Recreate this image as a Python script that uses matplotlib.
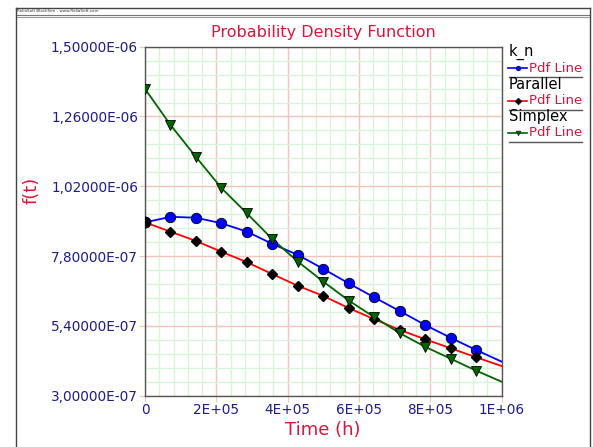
import matplotlib
matplotlib.use("Agg")
import matplotlib.pyplot as plt
from matplotlib.lines import Line2D
from matplotlib.ticker import FixedLocator, MultipleLocator, FuncFormatter

# sample times (h)
times = [0, 71430, 142860, 214290, 285710, 357140, 428570, 500000,
         571430, 642860, 714290, 785710, 857140, 928570]
t_end = 1000000

# pdf values
kn_pdf = [8.96e-7, 9.15e-7, 9.12e-7, 8.93e-7, 8.64e-7, 8.22e-7, 7.84e-7,
          7.36e-7, 6.86e-7, 6.38e-7, 5.91e-7, 5.43e-7, 4.99e-7, 4.57e-7]
kn_end = 4.17e-7
par_pdf = [8.96e-7, 8.64e-7, 8.32e-7, 7.95e-7, 7.59e-7, 7.18e-7, 6.78e-7,
           6.43e-7, 6.01e-7, 5.63e-7, 5.26e-7, 4.94e-7, 4.63e-7, 4.32e-7]
par_end = 4.02e-7
simp_pdf = [1.355e-6, 1.231e-6, 1.121e-6, 1.014e-6, 9.27e-7, 8.38e-7, 7.61e-7,
            6.92e-7, 6.27e-7, 5.70e-7, 5.15e-7, 4.68e-7, 4.27e-7, 3.86e-7]
simp_end = 3.48e-7

y_ticks = [3.0e-7, 5.4e-7, 7.8e-7, 1.02e-6, 1.26e-6, 1.5e-6]
x_ticks = [0, 2e5, 4e5, 6e5, 8e5, 1e6]

series_names = ["k_n", "Parallel", "Simplex"]
line_label = "Pdf Line"

W, H = 593, 447
fig = plt.figure(figsize=(W / 100, H / 100), dpi=100)
ax = fig.add_axes([145 / W, 1 - 395.7 / H, (501.7 - 145) / W, (395.7 - 46.7) / H])

crimson = "#dc143c"
navy = "#1c1c8c"

tx = times + [t_end]
ax.plot(tx, kn_pdf + [kn_end], color="blue", lw=1.3, zorder=3)
ax.plot(tx, par_pdf + [par_end], color="red", lw=1.3, zorder=3)
ax.plot(tx, simp_pdf + [simp_end], color="#006400", lw=1.3, zorder=3)
ax.plot(times, kn_pdf, ls="none", marker="o", ms=7.5, mfc="blue", mec="black", mew=0.6, zorder=4)
ax.plot(times, par_pdf, ls="none", marker="D", ms=5.5, mfc="black", mec="black", zorder=5)
ax.plot(times, simp_pdf, ls="none", marker="v", ms=7.5, mfc="#006400", mec="black", mew=0.6, zorder=6)
ax.plot(times[:1], kn_pdf[:1], ls="none", marker="o", ms=7.5, mfc="black", mec="black", zorder=7)

ax.set_xlim(0, 1e6)
ax.set_ylim(3e-7, 1.5e-6)
ax.xaxis.set_major_locator(FixedLocator(x_ticks))
ax.xaxis.set_minor_locator(MultipleLocator(4e4))
ax.yaxis.set_major_locator(FixedLocator(y_ticks))
ax.yaxis.set_minor_locator(FixedLocator([y_ticks[0] + k * 4.8e-8 for k in range(26)]))
ax.xaxis.set_major_formatter(FuncFormatter(lambda v, p: "0" if v == 0 else f"{v:.0E}"))
ax.yaxis.set_major_formatter(FuncFormatter(lambda v, p: f"{v:.5E}".replace(".", ",")))
ax.grid(which="minor", color="#d6f5d6", lw=0.9, zorder=0)
ax.grid(which="major", color="#f2c4bc", lw=1.0, zorder=1)
ax.tick_params(which="major", length=4, color="#f2c4bc", labelcolor=navy, labelsize=9.8, pad=1)
ax.tick_params(which="minor", length=0)
for s in ax.spines.values():
    s.set_color("#555555")
    s.set_linewidth(1.0)

fig.text(323 / W, 1 - 32 / H, "Probability Density Function", color=crimson,
         fontsize=11.5, ha="center", va="center")
fig.text(323 / W, 1 - 430 / H, "Time (h)", color=crimson, fontsize=13, ha="center", va="center")
fig.text(32 / W, 1 - 190 / H, "f(t)", color=crimson, fontsize=13, ha="center", va="center",
         rotation=90)

# outer frame and header strip
def hline(y, x0, x1, c, lw):
    fig.add_artist(Line2D([x0 / W, x1 / W], [1 - y / H, 1 - y / H], color=c, lw=lw))

def vline(x, y0, y1, c, lw):
    fig.add_artist(Line2D([x / W, x / W], [1 - y0 / H, 1 - y1 / H], color=c, lw=lw))

hline(8, 16, 590, "#444444", 1.0)
hline(14.5, 16, 590, "#777777", 0.8)
hline(16.5, 16, 590, "#999999", 0.8)
vline(16, 8, H, "#444444", 1.0)
vline(590, 8, H, "#444444", 1.0)
fig.text(17 / W, 1 - 11.5 / H, "ReliaSoft BlockSim - www.ReliaSoft.com", fontsize=3,
         color="#333333", va="center", ha="left")

# legend drawn by hand
leg_colors = [("blue", "o", "blue"), ("red", "D", "black"), ("#006400", "v", "#006400")]
for i, name in enumerate(series_names):
    y0 = 52 + i * 32.5
    fig.text(509 / W, 1 - y0 / H, name, fontsize=10.5, color="black", va="center", ha="left")
    lc, mk, mc = leg_colors[i]
    fig.add_artist(Line2D([508 / W, 527 / W], [1 - (y0 + 16) / H] * 2, color=lc, lw=1.2))
    fig.add_artist(Line2D([517.5 / W], [1 - (y0 + 16) / H], marker=mk, ms=3.5, color=mc,
                          mec="black", mew=0.3, ls="none"))
    fig.text(529 / W, 1 - (y0 + 16) / H, line_label, fontsize=9.5, color=crimson,
             va="center", ha="left")
    hline(y0 + 25, 509, 582, "#555555", 1.0)

fig.savefig("out.png", dpi=100)
